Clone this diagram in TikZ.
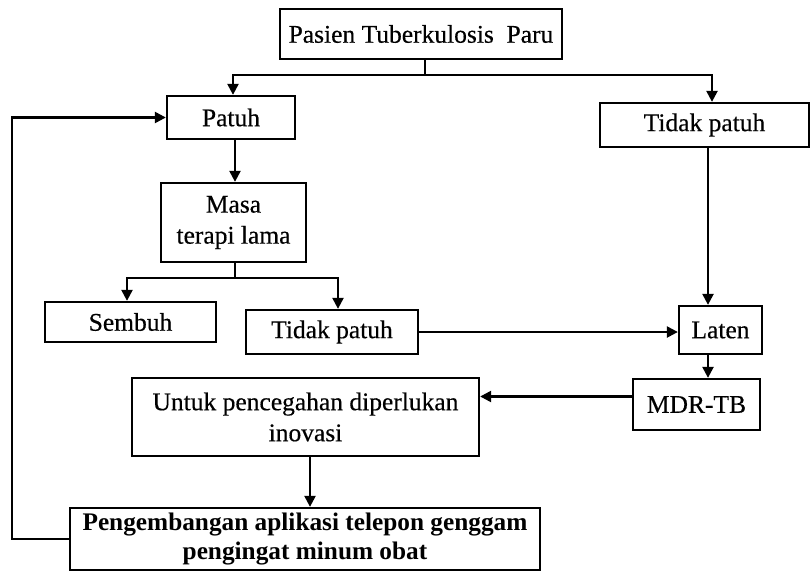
\documentclass[tikz,border=0pt]{standalone}
\usepackage{fontspec}
\setmainfont{Liberation Serif}[FakeBold=0.4, BoldFeatures={FakeBold=0}]
\usetikzlibrary{arrows.meta}

\tikzset{
  box/.style={draw, line width=2.3pt, inner sep=0pt, align=center,
    font=\fontsize{25.5}{31}\selectfont},
  boldbox/.style={box, font=\fontsize{25.3}{29}\selectfont\bfseries},
  link/.style={line width=2.3pt},
  arrowlink/.style={link, -{Triangle[length=11pt,width=11pt]}},
}

\begin{document}
\begin{tikzpicture}[x=1pt,y=-1pt]
  \useasboundingbox (0,0) rectangle (811,578);

  % boxes
  \node[box, minimum width=282pt, minimum height=50pt] (pasien) at (421,34) {Pasien Tuberkulosis\ \ Paru};
  \node[box, minimum width=128pt, minimum height=43pt] (patuh) at (231,117.5) {Patuh};
  \node[box, minimum width=209pt, minimum height=44pt] (tidak1) at (704.5,125) {Tidak patuh};
  \node[box, minimum width=145pt, minimum height=79pt] (masa) at (233.5,222.5) {Masa\\terapi lama};
  \node[box, minimum width=171pt, minimum height=40pt] (sembuh) at (130.5,322) {Sembuh};
  \node[box, minimum width=172pt, minimum height=44pt] (tidak2) at (332,332) {Tidak patuh};
  \node[box, minimum width=83pt, minimum height=48pt] (laten) at (720.5,330) {Laten};
  \node[box, minimum width=127pt, minimum height=51pt] (mdr) at (696.5,404.5) {MDR-TB};
  \node[box, minimum width=347pt, minimum height=78pt] (untuk) at (305.5,417) {Untuk pencegahan diperlukan\\inovasi};
  \node[boldbox, minimum width=470pt, minimum height=62pt] (aplikasi) at (305,539) {Pengembangan aplikasi telepon genggam\\pengingat minum obat};

  % junction points
  \coordinate (j1) at (425,75);
  \coordinate (j2) at (235,278);
  \coordinate (loop) at (12,539);

  % connectors
  \draw[link] (pasien.south -| j1) -- (j1);
  \draw[arrowlink] (j1) -| ([xshift=2pt]patuh.north);
  \draw[arrowlink] (j1) -| ([xshift=7.5pt]tidak1.north);
  \draw[arrowlink] ([xshift=4pt]patuh.south) -- ([xshift=1.5pt]masa.north);
  \draw[link] (masa.south -| j2) -- (j2);
  \draw[arrowlink] (j2) -| ([xshift=-3.5pt]sembuh.north);
  \draw[arrowlink] (j2) -| ([xshift=6pt]tidak2.north);
  \draw[arrowlink] (tidak2.east) -- (tidak2.east -| laten.west);
  \draw[arrowlink] ([xshift=3.5pt]tidak1.south) -- ([xshift=-12.5pt]laten.north);
  \draw[arrowlink] ([xshift=-12.5pt]laten.south) -- ([xshift=11.5pt]mdr.north);
  \draw[arrowlink] ([yshift=8pt]mdr.west) -- ([yshift=8pt]mdr.west -| untuk.east);
  \draw[arrowlink] ([xshift=4.5pt]untuk.south) -- ([xshift=5pt]aplikasi.north);
  \draw[arrowlink] (aplikasi.west) -- (loop) |- (patuh.west);
\end{tikzpicture}
\end{document}
